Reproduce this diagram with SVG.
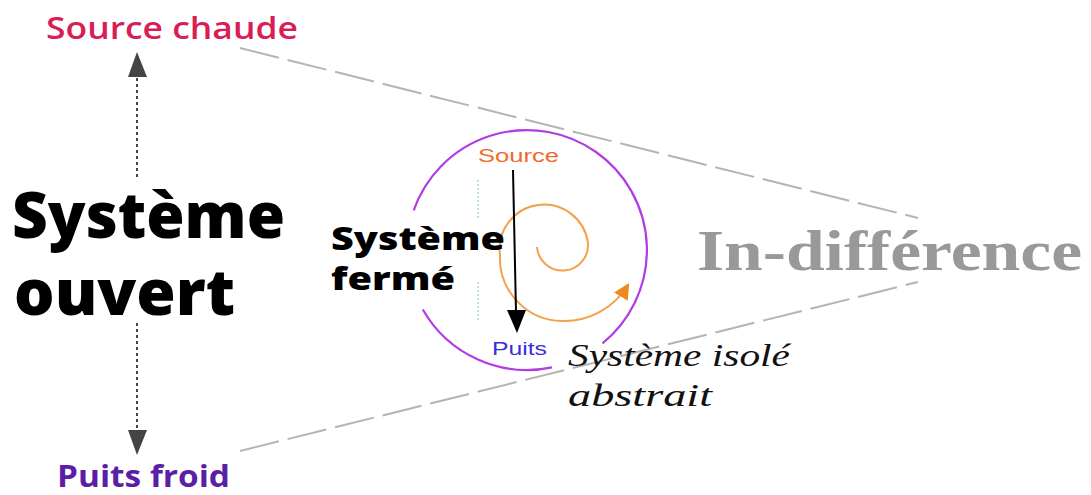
<svg xmlns="http://www.w3.org/2000/svg" width="1091" height="495" viewBox="0 0 1091 495">
<style>
.bold{font-family:"Open Sans","Liberation Sans",sans-serif;font-weight:800;fill:#000}
.small{font-family:"Liberation Sans",Arial,sans-serif;font-size:18px}
.gray{fill:none;stroke:#b4b4b4;stroke-width:2;stroke-dasharray:40 9}
.dot{fill:none;stroke:#444;stroke-width:2;stroke-dasharray:3 3}
.purple{fill:none;stroke:#b23be3;stroke-width:2.2}
.green{fill:none;stroke:#8fd9a0;stroke-width:1.2;stroke-dasharray:2 2}
.script{font-family:"Liberation Serif","DejaVu Serif",serif;font-style:italic;font-size:31px;fill:#111}
</style>
<defs>
<marker id="orangeHead" markerWidth="16" markerHeight="16" refX="12" refY="7" orient="auto" markerUnits="userSpaceOnUse" viewBox="0 0 14 14">
<path d="M0,0 L14,7 L0,14 z" fill="#f08a1c"/>
</marker>
</defs>
<rect width="1091" height="495" fill="#fff"/>
<g id="connectors">
<path class="gray" d="M240,48 L918,218"/>
<path class="gray" d="M240,451 L918,282"/>
<path class="dot" d="M137,78 L137,177"/>
<polygon points="137,52 128,77 147,77" fill="#444"/>
<path class="dot" d="M137,323 L137,431"/>
<polygon points="137,455 128,430 147,430" fill="#444"/>
</g>
<g id="source-chaude">
<text x="46" y="39" font-family="'Open Sans','Liberation Sans',sans-serif" font-weight="600" font-size="31" fill="#d91e56" textLength="252" lengthAdjust="spacingAndGlyphs">Source chaude</text>
</g>
<g id="puits-froid">
<text x="57" y="487" font-family="'Open Sans','Liberation Sans',sans-serif" font-weight="700" font-size="30" fill="#5a1fa6" textLength="173" lengthAdjust="spacingAndGlyphs">Puits froid</text>
</g>
<g id="systeme-ouvert">
<text class="bold" x="12" y="238" font-size="63" textLength="273" lengthAdjust="spacingAndGlyphs">Système</text>
<text class="bold" x="14" y="315" font-size="63" textLength="221" lengthAdjust="spacingAndGlyphs">ouvert</text>
</g>
<g id="systeme-isole">
<path class="purple" d="M422.8,309.5 A120,120 0 0 0 552,367.4"/>
<path class="purple" d="M602.5,343.3 A120,120 0 1 0 413.7,210.3"/>
<path class="green" d="M478,180 L478,220"/>
<path class="green" d="M478,282 L478,320"/>
</g>
<g id="spirale">
<path d="M537,247 A25.5,25.5 0 0 0 588,243 A44,44 0 0 0 500,255 A63,63 0 0 0 562,321 A75,75 0 0 0 628,285" fill="none" stroke="#f3a14a" stroke-width="2" marker-end="url(#orangeHead)"/>
</g>
<g id="source">
<text class="small" x="478" y="162" fill="#f06a2a" textLength="81" lengthAdjust="spacingAndGlyphs">Source</text>
</g>
<g id="fleche-source-puits">
<line x1="513" y1="170" x2="516" y2="312" stroke="#000" stroke-width="2"/>
<polygon points="517,333 507,310 526,310" fill="#000"/>
</g>
<g id="puits">
<text class="small" x="492" y="355" fill="#3a2ee0" textLength="55" lengthAdjust="spacingAndGlyphs">Puits</text>
</g>
<g id="systeme-ferme">
<text class="bold" x="331" y="250" font-size="32" textLength="174" lengthAdjust="spacingAndGlyphs">Système</text>
<text class="bold" x="331" y="290" font-size="32" textLength="124" lengthAdjust="spacingAndGlyphs">fermé</text>
</g>
<g id="isole-abstrait">
<text class="script" x="568" y="366" textLength="222" lengthAdjust="spacingAndGlyphs">Système isolé</text>
<text class="script" x="568" y="406" textLength="144" lengthAdjust="spacingAndGlyphs">abstrait</text>
</g>
<g id="indifference">
<text x="697" y="270" font-family="'Liberation Serif','DejaVu Serif',serif" font-weight="bold" font-size="56" fill="#999" textLength="385" lengthAdjust="spacingAndGlyphs">In-différence</text>
</g>
</svg>
